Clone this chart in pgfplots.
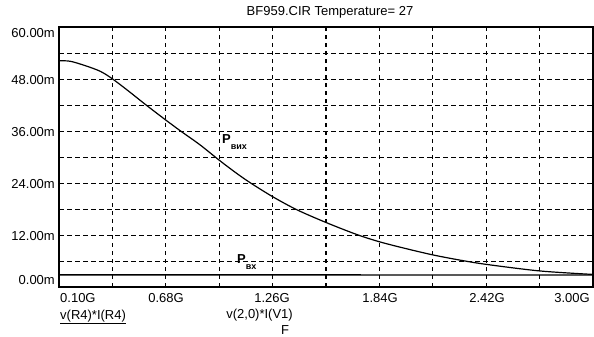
\documentclass[border=0pt]{standalone}
\usepackage{pgfplots}
\pgfplotsset{compat=1.18}
\usepackage{fontspec}
\setmainfont{Liberation Sans}
\begin{document}
\begin{tikzpicture}[x=1pt,y=1pt,every node/.style={font=\fontsize{13}{15}\selectfont, inner sep=0pt}]
\useasboundingbox (0,0) rectangle (594,337);
\begin{axis}[
  at={(59pt,50pt)}, anchor=south west,
  scale only axis, width=534pt, height=260pt,
  xmin=0.1, xmax=3.0, ymin=0, ymax=60,
  xtick={0.39,0.68,0.97,1.26,1.55,1.84,2.13,2.42,2.71},
  ytick={6,12,18,24,30,36,42,48,54},
  xticklabels={,,}, yticklabels={,,},
  major tick length=0pt,
  grid=major,
  x grid style={black, line width=1.1pt, dash pattern=on 4pt off 4pt},
  y grid style={black, line width=0.9pt, dash pattern=on 5pt off 3pt},
  axis line style={black, line width=1.3pt},
  clip=false,
]
\addplot[black, line width=1.2pt, smooth, tension=0.5] coordinates {
(0.100,52.2) (0.160,52.1) (0.241,51.1) (0.323,49.8) (0.388,48.1)
(0.475,45.3) (0.567,42.2) (0.659,39.2) (0.757,36.1) (0.866,32.8)
(0.969,29.3) (1.056,26.5) (1.137,24.1) (1.262,20.8) (1.393,17.8)
(1.555,14.8) (1.718,12.1) (1.843,10.4) (1.990,8.8) (2.131,7.4)
(2.278,6.2) (2.424,5.2) (2.712,3.7) (3.000,2.9)
};
\addplot[black, line width=1.3pt] coordinates {
(0.100,2.8) (1.5,2.8) (3.000,2.75)
};
\end{axis}
% title
\node at (330,325) {BF959.CIR Temperature= 27};
% y tick labels
\node[anchor=east] at (55,304) {60.00m};
\node[anchor=east] at (55,257) {48.00m};
\node[anchor=east] at (55,205) {36.00m};
\node[anchor=east] at (55,153) {24.00m};
\node[anchor=east] at (55,101) {12.00m};
\node[anchor=east] at (55,57) {0.00m};
% x tick labels
\node[anchor=west] at (60,39) {0.10G};
\node at (166,39) {0.68G};
\node at (272,39) {1.26G};
\node at (380,39) {1.84G};
\node at (487,39) {2.42G};
\node[anchor=east] at (590,39) {3.00G};
% expressions
\node[anchor=west] at (60,20) {\underline{v(R4)*I(R4)}};
\node[anchor=east] at (293,22) {v(2,0)*I(V1)};
\node at (285,7) {F};
% curve labels
\node[anchor=west] at (222,195) {\fontsize{13}{15}\selectfont\bfseries P\raisebox{-6pt}{\fontsize{9}{10}\selectfont вих}};
\node[anchor=west] at (237,75) {\fontsize{13}{15}\selectfont\bfseries P\raisebox{-6pt}{\fontsize{9}{10}\selectfont вх}};
\end{tikzpicture}
\end{document}
